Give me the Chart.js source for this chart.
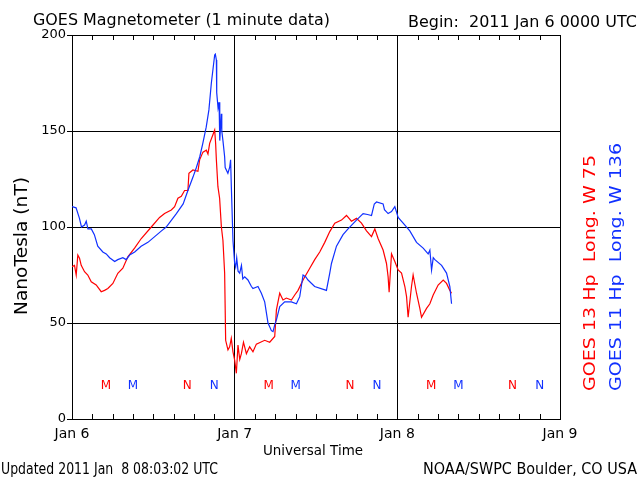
<!DOCTYPE html>
<html>
<head>
<meta charset="utf-8">
<script src="https://cdn.jsdelivr.net/npm/chart.js@4.4.1/dist/chart.umd.min.js"></script>
<style>
  html, body { margin: 0; padding: 0; background: #fff; }
  #wrap { width: 640px; height: 480px; }
</style>
</head>
<body>
<div id="wrap"><canvas id="magChart" width="640" height="480"></canvas></div>
<script>
// hours since 2011 Jan 6 00:00 UTC
const dayLabels = ['Jan 6', 'Jan 7', 'Jan 8', 'Jan 9'];

// GOES 11 (blue)
const blueHours = [0.0, 0.6, 1.1, 1.4, 1.85, 2.1, 2.35, 2.85, 3.3, 3.8, 4.55, 5.05, 5.55, 6.3, 6.75, 7.5, 8.0, 8.5,
  9.25, 10.2, 11.2, 12.2, 13.2, 13.9, 15.4, 16.4, 17.1, 17.85, 18.35, 18.85, 19.3, 19.8, 20.2, 20.56, 21.05, 21.15,
  21.3, 21.35, 21.55, 21.7, 21.8, 22.04, 22.1, 22.27, 22.52, 22.6, 23.0, 23.26, 23.4, 23.51, 23.75, 24.0, 24.15,
  24.3, 24.5, 24.74, 25.0, 25.2, 25.48, 25.96, 26.47, 26.7, 27.44, 27.94, 28.43, 28.92, 29.42, 29.66, 29.91, 30.16,
  30.4, 30.65, 31.38, 32.37, 33.11, 33.6, 34.09, 34.5, 34.82, 35.8, 37.54, 38.03, 38.28, 39.02, 39.99, 40.73,
  41.97, 42.95, 43.6, 44.19, 44.6, 44.93, 45.9, 46.1, 46.64, 47.14, 47.63, 48.12, 48.86, 49.84, 50.83, 51.81,
  52.55, 52.8, 53.05, 53.3, 53.54, 54.53, 55.26, 55.75, 56.0];
const blueValues = [110.6, 110, 104.5, 100, 101, 103, 99, 99, 96, 90, 87, 86, 84, 82, 83, 84, 83, 85.4,
  87, 90, 92, 95, 98, 100, 107, 112, 119, 126, 131, 136.6, 143.6, 152, 161, 175, 189.6, 190,
  187, 170, 162, 165, 145, 159, 150, 145, 136.6, 131, 128, 131, 135, 121, 93, 81, 79,
  84, 77, 76, 80, 73, 74, 72.4, 69, 68, 69, 65.5, 61, 50, 46, 45.5, 49, 51.6,
  55, 58.5, 61, 61, 60, 63.7, 75, 74, 72.4, 69, 67, 76, 81, 90, 96, 99,
  103.6, 107, 106.5, 106, 112, 113, 112, 109, 107, 108, 110.6, 105, 102, 98, 92, 89,
  86, 88, 77.6, 84, 83, 80, 76, 69, 60];

// GOES 13 (red)
const redHours = [0.0, 0.37, 0.62, 0.86, 1.11, 1.36, 1.85, 2.33, 2.84, 3.57, 4.31, 4.8, 5.29, 6.03, 6.76, 7.5,
  8.24, 9.23, 10.22, 11.7, 12.92, 13.66, 14.65, 15.14, 15.63, 16.13, 16.61, 17.1, 17.25, 17.84, 18.58, 18.83,
  19.32, 19.82, 20.06, 20.31, 20.79, 21.05, 21.19, 21.3, 21.53, 21.78, 22.04, 22.27, 22.52, 22.67, 23.01, 23.26,
  23.5, 23.75, 24.0, 24.25, 24.49, 24.75, 24.99, 25.3, 25.73, 26.21, 26.7, 27.2, 28.43, 29.17, 29.91, 30.16,
  30.65, 31.13, 31.63, 32.37, 32.86, 33.35, 34.09, 34.34, 35.08, 35.81, 36.55, 37.29, 38.03, 38.77, 39.76, 40.5,
  41.23, 41.97, 42.71, 43.45, 44.19, 44.68, 45.16, 45.9, 46.4, 46.64, 46.79, 47.14, 47.63, 48.12, 48.62, 49.11,
  49.36, 49.59, 50.09, 50.33, 50.83, 51.32, 51.57, 52.31, 52.8, 53.29, 54.02, 54.77, 55.26, 55.75, 56.0];
const redValues = [79.3, 80, 75, 85.4, 83.7, 80, 76.7, 75, 71.5, 69.8, 66.3, 67, 68, 70.6, 75.9, 78.5,
  84.5, 89, 94, 100, 105, 107, 108.9, 110.6, 115, 116, 119, 119, 128, 129.7, 129, 135,
  139, 140, 138, 143.6, 148, 150.5, 143.6, 135, 121, 115, 100, 93, 76, 41, 36, 37.6,
  42, 35, 30.7, 23.8, 38.5, 31, 34, 40, 34, 37.6, 35, 39, 41, 40, 43, 56.8,
  65.5, 62, 63, 62, 64.6, 67, 72.4, 74, 78.5, 83, 87, 92, 97.6, 102, 103.6, 106,
  103, 104.5, 102, 98, 95, 99, 94, 88, 81, 74, 66, 86, 82, 77.6, 76, 69,
  63.7, 53, 69, 75, 65.5, 57.6, 53, 57.6, 60, 64.6, 69.8, 72.4, 70.6, 67, 65.5];

// local midnight (M) / noon (N) markers, hours UTC
const redMidnight = [5, 29, 53];
const redNoon = [17, 41, 65];
const blueMidnight = [9, 33, 57];
const blueNoon = [21, 45, 69];
const markerLevel = 17;

const RED = '#ff0000';
const BLUE = '#1030ff';
const FONT = '"DejaVu Sans"';

function toPoints(hours, values) {
  return hours.map((h, i) => ({ x: h, y: values[i] }));
}

// text at a given font size, stretched sideways to span a given width
function fitText(ctx, str, x, y, width, size, align, color) {
  ctx.save();
  ctx.font = size + 'px ' + FONT;
  const sx = width / ctx.measureText(str).width;
  ctx.translate(x, y);
  ctx.scale(sx, 1);
  ctx.textAlign = align;
  ctx.textBaseline = 'alphabetic';
  ctx.fillStyle = color || '#000';
  ctx.fillText(str, 0, 0);
  ctx.restore();
}

const decorations = {
  id: 'decorations',
  afterDraw(chart) {
    const ctx = chart.ctx;
    const xs = chart.scales.x, ys = chart.scales.y;
    const area = chart.chartArea;
    ctx.save();

    // minor ticks every 3 hours, inside top and bottom
    ctx.strokeStyle = '#000';
    ctx.lineWidth = 1;
    xs.ticks.forEach(t => {
      if (t.value % 24 === 0) return;
      const px = Math.round(xs.getPixelForValue(t.value)) + 0.5;
      ctx.beginPath();
      ctx.moveTo(px, area.bottom); ctx.lineTo(px, area.bottom - 5);
      ctx.moveTo(px, area.top); ctx.lineTo(px, area.top + 5);
      ctx.stroke();
    });

    // M / N letters
    ctx.font = '12px ' + FONT;
    ctx.textAlign = 'center';
    ctx.textBaseline = 'middle';
    const py = ys.getPixelForValue(markerLevel);
    const letters = [[redMidnight, 'M', RED], [redNoon, 'N', RED], [blueMidnight, 'M', BLUE], [blueNoon, 'N', BLUE]];
    letters.forEach(([hrs, ch, col]) => {
      ctx.fillStyle = col;
      hrs.forEach(h => ctx.fillText(ch, xs.getPixelForValue(h), py));
    });

    // titles and footers
    fitText(ctx, 'GOES Magnetometer (1 minute data)', 33, 25, 297, 15, 'left');
    fitText(ctx, 'Begin:  2011 Jan 6 0000 UTC', 637, 27, 229, 15, 'right');
    fitText(ctx, 'Universal Time', 313, 455, 100, 14, 'center');
    fitText(ctx, 'Updated 2011 Jan  8 08:03:02 UTC', 1, 474, 217, 15, 'left');
    fitText(ctx, 'NOAA/SWPC Boulder, CO USA', 637, 474, 214, 15, 'right');

    // y axis title
    ctx.save();
    ctx.translate(27, 246);
    ctx.rotate(-Math.PI / 2);
    fitText(ctx, 'NanoTesla (nT)', 0, 0, 138, 18, 'center');
    ctx.restore();

    // satellite labels on the right
    ctx.save();
    ctx.translate(595, 391);
    ctx.rotate(-Math.PI / 2);
    fitText(ctx, 'GOES 13 Hp  Long. W 75', 0, 0, 236, 16, 'left', RED);
    ctx.restore();
    ctx.save();
    ctx.translate(621, 391);
    ctx.rotate(-Math.PI / 2);
    fitText(ctx, 'GOES 11 Hp  Long. W 136', 0, 0, 248, 16, 'left', BLUE);
    ctx.restore();

    ctx.restore();
  }
};

const ctx = document.getElementById('magChart').getContext('2d');
new Chart(ctx, {
  type: 'line',
  data: {
    datasets: [
      {
        label: 'GOES 11',
        data: toPoints(blueHours, blueValues),
        borderColor: BLUE,
        borderWidth: 1.2,
        pointRadius: 0,
        tension: 0,
        fill: false
      },
      {
        label: 'GOES 13',
        data: toPoints(redHours, redValues),
        borderColor: RED,
        borderWidth: 1.2,
        pointRadius: 0,
        tension: 0,
        fill: false
      }
    ]
  },
  options: {
    responsive: false,
    animation: false,
    devicePixelRatio: 1,
    layout: { padding: { top: 35, right: 80, bottom: 0, left: 0 } },
    plugins: { legend: { display: false }, tooltip: { enabled: false } },
    scales: {
      x: {
        type: 'linear',
        min: 0,
        max: 72,
        afterFit: s => { s.height = 61; },
        ticks: {
          stepSize: 3,
          autoSkip: false,
          maxRotation: 0,
          padding: 7,
          color: '#000',
          font: { family: FONT, size: 14 },
          callback: v => (v % 24 === 0 ? dayLabels[v / 24] : '')
        },
        grid: {
          drawTicks: false,
          lineWidth: 1,
          color: c => (c.tick && c.tick.value % 24 === 0 ? '#000' : 'rgba(0,0,0,0)')
        },
        border: { display: true, color: '#000' }
      },
      y: {
        min: 0,
        max: 200,
        afterFit: s => { s.width = 72; },
        ticks: {
          stepSize: 50,
          padding: 1,
          color: '#000',
          font: { family: FONT, size: 13 }
        },
        grid: { color: '#000', lineWidth: 1, tickLength: 5 },
        border: { display: true, color: '#000' }
      }
    }
  },
  plugins: [decorations]
});
</script>
</body>
</html>
